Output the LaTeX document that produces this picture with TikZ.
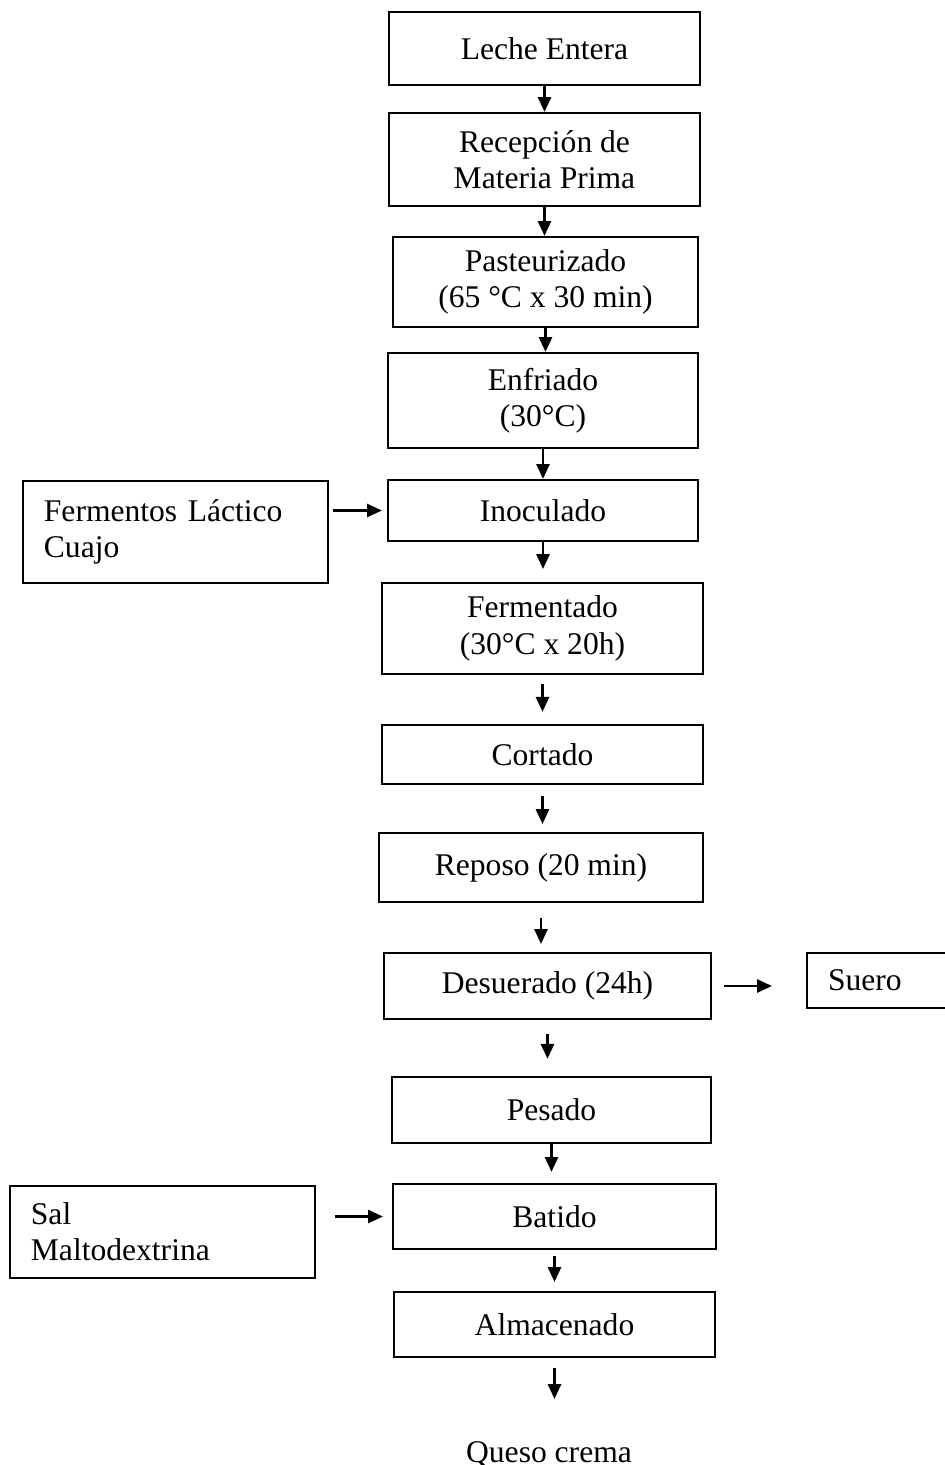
\documentclass[tikz,border=0pt]{standalone}
\usepackage{fontspec}
\setmainfont{Liberation Serif}
\usetikzlibrary{arrows.meta}

\begin{document}
\begin{tikzpicture}[x=0.38pt, y=-0.38pt,
        font=\fontsize{12}{13.8}\selectfont,
        caja/.style 2 args={draw, line width=0.9pt, inner sep=0pt, align=center,
            minimum width=#1*0.38pt, minimum height=#2*0.38pt},
        insumo/.style 2 args={draw, line width=0.9pt, align=left, text width=#1,
            inner xsep=8pt, minimum height=#2*0.38pt},
        flecha/.style={line width=0.8pt, -{Triangle[length=5.6pt, width=5pt]}}]
        \useasboundingbox (0,0) rectangle (945,1465);

        % Main process line
        \node[caja={311}{73}] (leche) at (544.5,48.5) {Leche Entera};
        \node[caja={311}{93}] (recepcion) at (544.5,159.5) {Recepción de\\Materia Prima};
        \node[caja={305}{90}] (pasteurizado) at (545.5,282) {Pasteurizado\\(65 °C x 30 min)};
        \node[caja={310}{95}] (enfriado) at (543,400.5) {Enfriado\\(30°C)};
        \node[caja={310}{61}] (inoculado) at (543,510.5) {Inoculado};
        \node[caja={321}{91}] (fermentado) at (542.5,628.5) {Fermentado\\(30°C x 20h)};
        \node[caja={321}{59}] (cortado) at (542.5,754.5) {Cortado};
        \node[caja={324}{69}] (reposo) at (541,867.5) {Reposo (20 min)};
        \node[caja={327}{66}] (desuerado) at (547.5,986) {Desuerado (24h)};
        \node[caja={319}{66}] (pesado) at (551.5,1110) {Pesado};
        \node[caja={323}{65}] (batido) at (554.5,1216.5) {Batido};
        \node[caja={321}{65}] (almacenado) at (554.5,1324.5) {Almacenado};
        \node[anchor=base] (queso) at (549,1462) {Queso crema};

        % Inputs and outputs
        \node[insumo={100pt}{102}] (fermentos) at (175.5,532) {Fermentos Láctico\\Cuajo};
        \node[insumo={100pt}{92}] (sal) at (162.5,1232) {Sal\\Maltodextrina};
        \node[insumo={44.8pt}{55}] (suero) at (887,980.5) {Suero};

        % Arrows down the line
        \draw[flecha] (leche.south) -- (leche.south |- recepcion.north);
        \draw[flecha] (recepcion.south) -- (recepcion.south |- pasteurizado.north);
        \draw[flecha] (pasteurizado.south) -- (pasteurizado.south |- enfriado.north);
        \draw[flecha] (enfriado.south) -- (enfriado.south |- inoculado.north);
        \draw[flecha, shorten >=4.9pt] (inoculado.south) -- (inoculado.south |- fermentado.north);
        \draw[flecha, shorten <=3.4pt, shorten >=4.6pt] (fermentado.south) -- (fermentado.south |- cortado.north);
        \draw[flecha, shorten <=4.2pt, shorten >=3pt] (cortado.south) -- (cortado.south |- reposo.north);
        \draw[flecha, shorten <=5.7pt, shorten >=3pt] (reposo.south) -- (reposo.south |- desuerado.north);
        \draw[flecha, shorten <=5.3pt, shorten >=6.5pt] (desuerado.south) -- (desuerado.south |- pesado.north);
        \draw[flecha, shorten >=4.2pt] (pesado.south) -- (pesado.south |- batido.north);
        \draw[flecha, shorten <=2.3pt, shorten >=3.4pt] (batido.south) -- (batido.south |- almacenado.north);
        \draw[flecha, shorten <=3.8pt, shorten >=12.5pt] (almacenado.south) -- (almacenado.south |- queso.north);

        % Side arrows
        \draw[flecha, shorten <=1.5pt, shorten >=1.9pt] (fermentos.east |- inoculado.west) -- (inoculado.west);
        \draw[flecha, shorten <=4.6pt, shorten >=12.9pt] (desuerado.east) -- (desuerado.east -| suero.west);
        \draw[flecha, shorten <=7.2pt, shorten >=3.4pt] (sal.east |- batido.west) -- (batido.west);
    \end{tikzpicture}
\end{document}
